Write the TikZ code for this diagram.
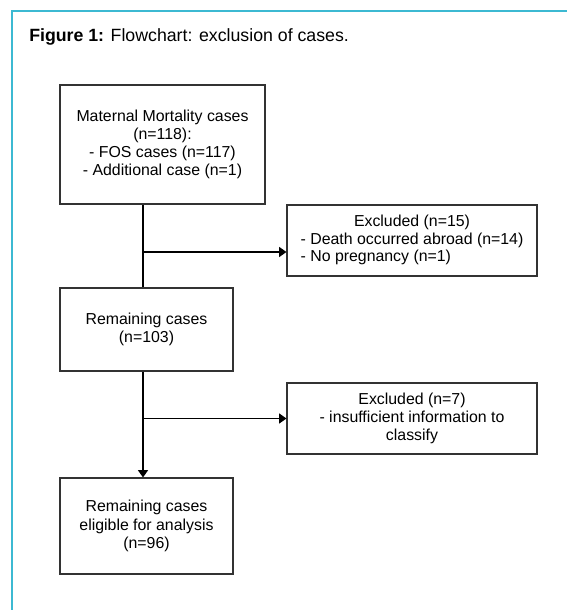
\documentclass[tikz,border=0pt]{standalone}
\usepackage{fontspec}
\setmainfont{Liberation Sans}
\usetikzlibrary{arrows.meta,shadows}
\definecolor{rahmen}{RGB}{60,185,210}
\tikzset{
	kasten/.style={draw=black!80,line width=0.8pt,fill=white,align=center,inner sep=0pt,
		font=\fontsize{11.9}{13.6}\selectfont,
		drop shadow={shadow xshift=0.7pt,shadow yshift=-0.7pt,opacity=0.35,fill=black}},
	pfeil/.style={line width=0.9pt,-{Triangle[length=5.5pt,width=7.5pt]}},
	linie/.style={line width=0.9pt}
}
\begin{document}
\begin{tikzpicture}[x=0.75pt,y=-0.75pt]
		
		% Rahmen
		\useasboundingbox (0,0) rectangle (567,610);
		\draw[rahmen,line width=1.2pt] (12,610) -- (12,11) -- (567,11);
		
		% Titel
		\node[anchor=base west,inner sep=0pt,font=\fontsize{13.3}{15}\selectfont] (titel) at (29,41.5)
			{\textbf{Figure 1:} Flowchart: exclusion of cases.};
		
		% Kaesten
		\node[kasten,minimum width=153.75pt,minimum height=89.25pt] (alle) at (162.5,144.5)
			{Maternal Mortality cases\\(n=118):\\- FOS cases (n=117)\\- Additional case (n=1)};
		\node[kasten,minimum width=187.5pt,minimum height=53.25pt] (aus1) at (412,240.5)
			{\begin{tabular}{@{}l@{}}\multicolumn{1}{@{}c@{}}{Excluded (n=15)}\\[-0.3pt]- Death occurred abroad (n=14)\\[-0.3pt]- No pregnancy (n=1)\end{tabular}};
		\node[kasten,minimum width=129.75pt,minimum height=62.25pt] (rest1) at (146.5,329.5)
			{Remaining cases\\(n=103)};
		\node[kasten,minimum width=187.5pt,minimum height=53.25pt] (aus2) at (412,418.5)
			{Excluded (n=7)\\- insufficient information to\\classify};
		\node[kasten,minimum width=129.75pt,minimum height=72pt] (rest2) at (146.5,526)
			{Remaining cases\\eligible for analysis\\(n=96)};
		
		% Verbindungen
		\coordinate (achse) at (143,0);
		\coordinate (abzweig1) at (143,252);
		\draw[linie] (alle.south -| achse) -- (rest1.north -| achse);
		\draw[pfeil] (abzweig1) -- (abzweig1 -| aus1.west);
		\draw[pfeil] (rest1.south -| achse) -- (rest2.north -| achse);
		\draw[pfeil] (aus2.west -| achse) -- (aus2.west);
		
	\end{tikzpicture}
\end{document}
